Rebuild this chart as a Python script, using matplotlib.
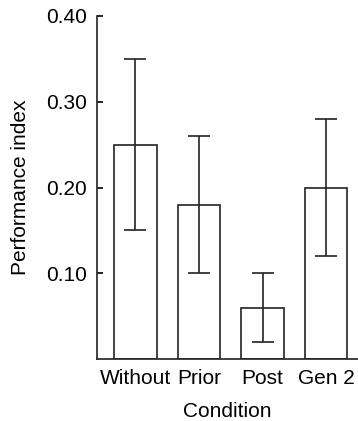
import matplotlib
matplotlib.use("Agg")
from matplotlib import pyplot as plt

plt.rcParams['font.family'] = ['Liberation Sans', 'DejaVu Sans']

conditions = ['Without', 'Prior', 'Post', 'Gen 2']
means = [0.25, 0.18, 0.06, 0.20]
errors = [0.10, 0.08, 0.04, 0.08]
y_ticks = [0.10, 0.20, 0.30, 0.40]

fig = plt.figure(figsize=(3.58, 4.21), dpi=100)
ax = fig.add_axes([0.271, 0.147, 0.729, 0.815])

x = range(len(conditions))
ax.bar(x, means, width=0.67, color='white', edgecolor='#222222', linewidth=1.2)
ax.errorbar(x, means, yerr=errors, fmt='none', ecolor='#222222',
            elinewidth=1.2, capsize=8, capthick=1.2)

ax.set_xlim(-0.6, 3.5)
ax.set_ylim(0, 0.40)
ax.set_yticks(y_ticks)
ax.set_yticklabels(['%.2f' % v for v in y_ticks])
ax.set_xticks(list(x))
ax.set_xticklabels(conditions)
ax.tick_params(axis='y', direction='in', length=4, width=1.2, labelsize=15, pad=7)
ax.tick_params(axis='x', length=0, labelsize=15, pad=7)
ax.spines['top'].set_visible(False)
ax.spines['right'].set_visible(False)
for s in ['left', 'bottom']:
    ax.spines[s].set_linewidth(1.2)
    ax.spines[s].set_color('#222222')

ax.set_xlabel('Condition', fontsize=15, labelpad=10)
ax.set_ylabel('Performance index', fontsize=15, labelpad=12)

fig.savefig('out.png', dpi=100)
